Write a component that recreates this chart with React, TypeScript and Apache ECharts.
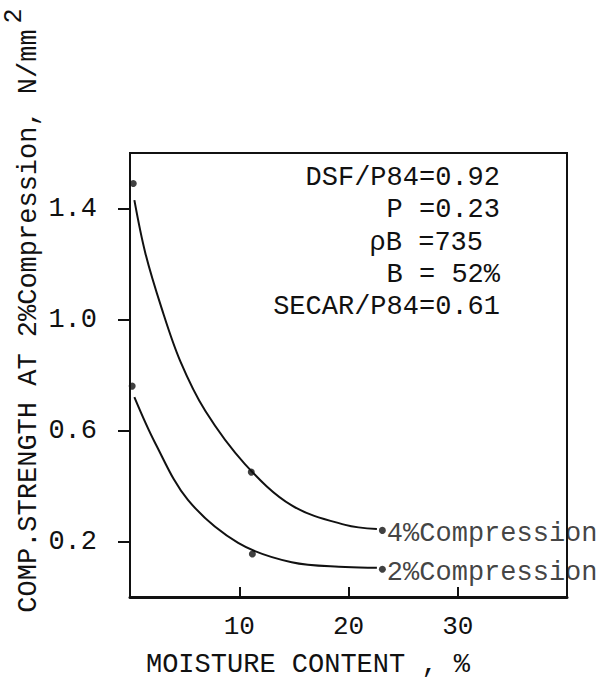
import React, { useEffect, useRef } from "react";
import * as echarts from "echarts";

// Fitted curves
const curve4X = [0.4, 1.4, 2.9, 4.6, 6.9, 10.5, 14.8, 19.7, 22.6];
const curve4Y = [1.43, 1.24, 1.04, 0.85, 0.67, 0.48, 0.33, 0.26, 0.245];
const curve2X = [0.4, 2.3, 5.3, 9.9, 14.8, 19.7, 22.6];
const curve2Y = [0.72, 0.555, 0.35, 0.195, 0.125, 0.108, 0.105];

// Measured points
const points4X = [0.3, 11.1, 23.1];
const points4Y = [1.49, 0.45, 0.24];
const points2X = [0.2, 11.2, 23.1];
const points2Y = [0.76, 0.155, 0.1];

const seriesNames = ["4%Compression", "2%Compression"];

const yTicks = [0.2, 0.6, 1.0, 1.4];
const xTicks = [10, 20, 30];

const xTitle = "MOISTURE CONTENT , %";
const yTitle = "COMP.STRENGTH AT 2%Compression, N/mm";
const yTitleSup = "2";

const notes = ["DSF/P84=0.92", "P =0.23", "ρB =735", "B = 52%", "SECAR/P84=0.61"];

const FONT_FAMILY = '"Liberation Mono", "DejaVu Sans Mono", monospace';
const INK = "#111";

function zip(xs: number[], ys: number[]) {
  return xs.map((x, i) => [x, ys[i]]);
}

function pointData(xs: number[], ys: number[], name: string) {
  return xs.map((x, i) => {
    const item: any = { value: [x, ys[i]] };
    if (i === xs.length - 1) {
      item.label = {
        show: true,
        position: "right",
        distance: 1,
        offset: [0, 4],
        formatter: name,
        color: INK,
        fontFamily: FONT_FAMILY,
        fontSize: 27,
      };
    }
    return item;
  });
}

export default function App() {
  const ref = useRef<HTMLDivElement>(null);

  useEffect(() => {
    if (!ref.current) return;
    const chart = echarts.init(ref.current, null, { renderer: "svg" });

    const noteRight = [500, 500, 483, 500, 500];
    const noteY = [178, 210, 243, 275, 307];

    const textStyle = (text: string, size: number, align: string) => ({
      text,
      font: `${size}px ${FONT_FAMILY}`,
      fill: INK,
      align,
      verticalAlign: "middle",
      textAlign: align,
      textVerticalAlign: "middle",
    });

    const option: any = {
      animation: false,
      backgroundColor: "#fff",
      grid: {
        left: 130,
        top: 153,
        width: 437,
        height: 444,
        show: true,
        borderColor: INK,
        borderWidth: 2,
        backgroundColor: "transparent",
      },
      xAxis: {
        type: "value",
        min: 0,
        max: 40,
        splitLine: { show: false },
        axisLine: { show: true, lineStyle: { color: INK, width: 3 } },
        axisTick: {
          show: true,
          inside: true,
          length: 10,
          lineStyle: { color: INK, width: 2 },
          customValues: xTicks,
        },
        axisLabel: {
          show: true,
          margin: 17,
          color: INK,
          fontFamily: FONT_FAMILY,
          fontSize: 26,
          customValues: xTicks,
        },
      },
      yAxis: {
        type: "value",
        min: 0,
        max: 1.6,
        splitLine: { show: false },
        axisLine: { show: true, lineStyle: { color: INK, width: 2 } },
        axisTick: {
          show: true,
          inside: false,
          length: 12,
          lineStyle: { color: INK, width: 2 },
          customValues: yTicks,
        },
        axisLabel: {
          show: true,
          margin: 33,
          color: INK,
          fontFamily: FONT_FAMILY,
          fontSize: 27,
          customValues: yTicks,
          formatter: (v: number) => v.toFixed(1),
        },
      },
      series: [
        {
          name: seriesNames[0] + " curve",
          type: "line",
          data: zip(curve4X, curve4Y),
          symbol: "none",
          smooth: 0.35,
          lineStyle: { color: INK, width: 2 },
        },
        {
          name: seriesNames[1] + " curve",
          type: "line",
          data: zip(curve2X, curve2Y),
          symbol: "none",
          smooth: 0.35,
          lineStyle: { color: INK, width: 2 },
        },
        {
          name: seriesNames[0],
          type: "scatter",
          data: pointData(points4X, points4Y, seriesNames[0]),
          symbol: "circle",
          symbolSize: 7,
          itemStyle: { color: INK },
        },
        {
          name: seriesNames[1],
          type: "scatter",
          data: pointData(points2X, points2Y, seriesNames[1]),
          symbol: "circle",
          symbolSize: 7,
          itemStyle: { color: INK },
        },
      ],
      graphic: [
        { type: "text", x: 29, y: 321, rotation: Math.PI / 2, style: textStyle(yTitle, 27, "center") },
        { type: "text", x: 14, y: 16, rotation: Math.PI / 2, style: textStyle(yTitleSup, 25, "center") },
        { type: "text", x: 308, y: 665, style: textStyle(xTitle, 27, "center") },
        ...notes.map((t, i) => ({
          type: "text",
          x: noteRight[i],
          y: noteY[i],
          style: textStyle(t, 27, "right"),
        })),
      ],
    };

    chart.setOption(option);
    return () => chart.dispose();
  }, []);

  return (
    <div
      ref={ref}
      style={{ position: "fixed", left: 0, top: 0, width: 606, height: 693, background: "#fff" }}
    />
  );
}
